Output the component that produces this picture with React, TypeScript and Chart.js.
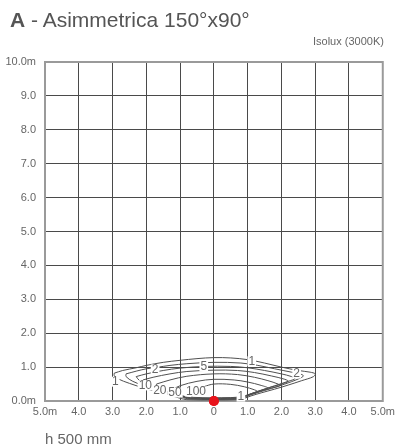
import React, { useEffect, useRef } from "react";
import { Chart, registerables } from "chart.js";

Chart.register(...registerables);

const xTickLabels = ["5.0m", "4.0", "3.0", "2.0", "1.0", "0", "1.0", "2.0", "3.0", "4.0", "5.0m"];
const yTickLabels = ["0.0m", "1.0", "2.0", "3.0", "4.0", "5.0", "6.0", "7.0", "8.0", "9.0", "10.0m"];

type P = { x: number; y: number };
const level1: P[] = [
  { x: -2.95, y: 0.82 }, { x: -2.7, y: 0.9 }, { x: -2.3, y: 0.98 }, { x: -2.0, y: 1.05 }, { x: -1.5, y: 1.14 },
  { x: -1.0, y: 1.2 }, { x: -0.5, y: 1.25 }, { x: 0, y: 1.28 }, { x: 0.5, y: 1.27 }, { x: 1.0, y: 1.22 },
  { x: 1.5, y: 1.12 }, { x: 2.0, y: 1.0 }, { x: 2.5, y: 0.9 }, { x: 2.85, y: 0.85 }, { x: 3.0, y: 0.8 },
  { x: 2.95, y: 0.72 }, { x: 2.6, y: 0.6 }, { x: 2.2, y: 0.47 }, { x: 1.8, y: 0.35 }, { x: 1.4, y: 0.24 },
  { x: 1.1, y: 0.15 }, { x: 0.9, y: 0.08 }, { x: 0.7, y: 0.04 }, { x: 0, y: 0.03 }, { x: -0.8, y: 0.04 },
  { x: -1.0, y: 0.08 }, { x: -1.4, y: 0.2 }, { x: -2.0, y: 0.36 }, { x: -2.5, y: 0.52 }, { x: -2.85, y: 0.66 },
  { x: -2.95, y: 0.75 }, { x: -2.95, y: 0.82 },
];
const level2: P[] = [
  { x: -2.6, y: 0.8 }, { x: -2.3, y: 0.88 }, { x: -2.0, y: 0.95 }, { x: -1.7, y: 0.99 }, { x: -1.3, y: 1.05 },
  { x: -0.8, y: 1.1 }, { x: 0, y: 1.14 }, { x: 0.8, y: 1.12 }, { x: 1.3, y: 1.05 }, { x: 1.8, y: 0.95 },
  { x: 2.3, y: 0.85 }, { x: 2.55, y: 0.8 }, { x: 2.65, y: 0.74 }, { x: 2.5, y: 0.65 }, { x: 2.1, y: 0.5 },
  { x: 1.7, y: 0.37 }, { x: 1.3, y: 0.25 }, { x: 1.0, y: 0.15 }, { x: 0.8, y: 0.08 }, { x: 0.6, y: 0.05 },
  { x: -0.7, y: 0.06 }, { x: -1.0, y: 0.12 }, { x: -1.5, y: 0.26 }, { x: -2.0, y: 0.42 }, { x: -2.4, y: 0.58 },
  { x: -2.6, y: 0.72 }, { x: -2.6, y: 0.8 },
];
const level5: P[] = [
  { x: -2.3, y: 0.72 }, { x: -2.0, y: 0.8 }, { x: -1.5, y: 0.9 }, { x: -1.0, y: 0.97 }, { x: -0.3, y: 1.02 },
  { x: 0.5, y: 1.02 }, { x: 1.0, y: 0.98 }, { x: 1.5, y: 0.9 }, { x: 2.0, y: 0.8 }, { x: 2.3, y: 0.72 },
  { x: 2.4, y: 0.66 }, { x: 2.2, y: 0.58 }, { x: 1.8, y: 0.45 }, { x: 1.4, y: 0.32 }, { x: 1.0, y: 0.18 },
  { x: 0.75, y: 0.09 }, { x: 0.55, y: 0.06 }, { x: -0.7, y: 0.07 }, { x: -1.0, y: 0.15 }, { x: -1.4, y: 0.28 },
  { x: -1.9, y: 0.45 }, { x: -2.2, y: 0.6 }, { x: -2.3, y: 0.72 },
];
const level10: P[] = [
  { x: -2.1, y: 0.62 }, { x: -1.8, y: 0.7 }, { x: -1.3, y: 0.8 }, { x: -0.8, y: 0.87 }, { x: 0, y: 0.91 },
  { x: 0.7, y: 0.9 }, { x: 1.2, y: 0.84 }, { x: 1.7, y: 0.74 }, { x: 2.1, y: 0.64 }, { x: 2.2, y: 0.58 },
  { x: 2.0, y: 0.5 }, { x: 1.6, y: 0.38 }, { x: 1.2, y: 0.25 }, { x: 0.9, y: 0.14 }, { x: 0.7, y: 0.08 },
  { x: 0.5, y: 0.07 }, { x: -0.7, y: 0.08 }, { x: -1.0, y: 0.17 }, { x: -1.5, y: 0.32 }, { x: -2.0, y: 0.48 },
  { x: -2.1, y: 0.55 }, { x: -2.1, y: 0.62 },
];
const level20: P[] = [
  { x: -1.7, y: 0.5 }, { x: -1.3, y: 0.62 }, { x: -0.8, y: 0.73 }, { x: 0, y: 0.8 }, { x: 0.7, y: 0.78 },
  { x: 1.2, y: 0.7 }, { x: 1.6, y: 0.6 }, { x: 1.9, y: 0.5 }, { x: 1.95, y: 0.45 }, { x: 1.7, y: 0.38 },
  { x: 1.3, y: 0.27 }, { x: 1.0, y: 0.17 }, { x: 0.75, y: 0.1 }, { x: 0.5, y: 0.08 }, { x: -0.7, y: 0.09 },
  { x: -1.1, y: 0.18 }, { x: -1.5, y: 0.3 }, { x: -1.7, y: 0.42 }, { x: -1.7, y: 0.5 },
];
const level50: P[] = [
  { x: -1.25, y: 0.33 }, { x: -1.0, y: 0.45 }, { x: -0.5, y: 0.58 }, { x: 0, y: 0.64 }, { x: 0.6, y: 0.62 },
  { x: 1.0, y: 0.56 }, { x: 1.4, y: 0.46 }, { x: 1.6, y: 0.38 }, { x: 1.4, y: 0.3 }, { x: 1.1, y: 0.2 },
  { x: 0.8, y: 0.12 }, { x: 0.5, y: 0.09 }, { x: -0.7, y: 0.1 }, { x: -1.0, y: 0.18 }, { x: -1.25, y: 0.28 },
  { x: -1.25, y: 0.33 },
];
const level100: P[] = [
  { x: -0.6, y: 0.3 }, { x: -0.3, y: 0.42 }, { x: 0, y: 0.5 }, { x: 0.5, y: 0.49 }, { x: 0.9, y: 0.42 },
  { x: 1.2, y: 0.33 }, { x: 1.3, y: 0.27 }, { x: 1.1, y: 0.2 }, { x: 0.8, y: 0.13 }, { x: 0.5, y: 0.1 },
  { x: -0.6, y: 0.11 }, { x: -0.7, y: 0.2 }, { x: -0.6, y: 0.3 },
];
const contours = [level1, level2, level5, level10, level20, level50, level100];

const labelTexts = ["1", "1", "1", "2", "2", "5", "10", "20", "50", "100"];
const labelX = [-2.92, 1.12, 0.8, -1.74, 2.45, -0.3, -2.03, -1.6, -1.15, -0.53];
const labelY = [0.57, 1.17, 0.13, 0.93, 0.81, 1.02, 0.46, 0.32, 0.25, 0.28];

const sourcePoint: P[] = [{ x: 0, y: 0 }];

const borderPlugin = {
  id: "frameBorder",
  beforeDatasetsDraw(chart: any) {
    const { ctx, chartArea } = chart;
    ctx.save();
    ctx.strokeStyle = "#9a9a9a";
    ctx.lineWidth = 2;
    ctx.strokeRect(chartArea.left, chartArea.top, chartArea.right - chartArea.left, chartArea.bottom - chartArea.top);
    ctx.restore();
  },
};

const labelPlugin = {
  id: "contourLabels",
  afterDatasetsDraw(chart: any) {
    const { ctx } = chart;
    const xs = chart.scales.x;
    const ys = chart.scales.y;
    ctx.save();
    ctx.font = "12px 'Liberation Sans', Arial, sans-serif";
    ctx.textAlign = "center";
    ctx.textBaseline = "middle";
    labelTexts.forEach((t, i) => {
      const px = xs.getPixelForValue(labelX[i]);
      const py = ys.getPixelForValue(labelY[i]);
      const w = ctx.measureText(t).width;
      ctx.fillStyle = "#ffffff";
      ctx.fillRect(px - w / 2 - 1, py - 5, w + 2, 10);
      ctx.fillStyle = "#666666";
      ctx.fillText(t, px, py + 0.5);
    });
    const meta = chart.getDatasetMeta(chart.data.datasets.length - 1);
    meta.data.forEach((el: any) => {
      ctx.beginPath();
      ctx.fillStyle = "#e8141c";
      ctx.arc(el.x, el.y, 5, 0, Math.PI * 2);
      ctx.fill();
    });
    ctx.restore();
  },
};

export default function App() {
  const ref = useRef<HTMLCanvasElement | null>(null);
  useEffect(() => {
    if (!ref.current) return;
    const datasets: any[] = contours.map((c) => ({
      data: c,
      showLine: true,
      borderColor: "#505050",
      borderWidth: 1,
      pointRadius: 0,
      tension: 0.35,
      fill: false,
    }));
    datasets.push({
      data: sourcePoint,
      showLine: false,
      pointRadius: 5,
      backgroundColor: "#e8141c",
      borderWidth: 0,
      clip: false,
    });
    const font = { family: "'Liberation Sans', Arial, sans-serif", size: 11 };
    const chart = new Chart(ref.current, {
      type: "scatter",
      data: { datasets },
      options: {
        animation: false,
        responsive: false,
        maintainAspectRatio: false,
        layout: { padding: { left: 0, right: 15, top: 62, bottom: 25 } },
        plugins: { legend: { display: false }, tooltip: { enabled: false }, title: { display: false } },
        scales: {
          x: {
            type: "linear",
            min: -5,
            max: 5,
            ticks: {
              stepSize: 1,
              padding: 4,
              color: "#666666",
              font,
              maxRotation: 0,
              autoSkip: false,
              callback: (_v: any, i: number) => xTickLabels[i],
            },
            grid: { color: "#4a4a4a", lineWidth: 1, drawTicks: false },
            border: { display: false },
            afterFit: (s: any) => {
              s.height = 20;
            },
          },
          y: {
            type: "linear",
            min: 0,
            max: 10,
            ticks: {
              stepSize: 1,
              padding: 9,
              color: "#666666",
              font,
              autoSkip: false,
              callback: (_v: any, i: number) => yTickLabels[i],
            },
            grid: { color: "#4a4a4a", lineWidth: 1, drawTicks: false },
            border: { display: false },
            afterFit: (s: any) => {
              s.width = 45;
            },
          },
        },
      },
      plugins: [borderPlugin, labelPlugin],
    });
    return () => chart.destroy();
  }, []);

  return (
    <div style={{ position: "fixed", left: 0, top: 0, width: 399, height: 446, background: "#fff", fontFamily: "'Liberation Sans', Arial, sans-serif" }}>
      <canvas ref={ref} width={399} height={446} style={{ position: "absolute", left: 0, top: 0 }} />
      <div style={{ position: "absolute", left: 10, top: 9.2, fontSize: 21, lineHeight: 1, color: "#555", whiteSpace: "nowrap" }}>
        <span style={{ fontWeight: "bold" }}>A</span> - Asimmetrica 150°x90°
      </div>
      <div style={{ position: "absolute", left: 313, top: 35.7, fontSize: 11, lineHeight: 1, color: "#666", whiteSpace: "nowrap" }}>
        Isolux (3000K)
      </div>
      <div style={{ position: "absolute", left: 45, top: 430.5, fontSize: 15, lineHeight: 1, color: "#666", whiteSpace: "nowrap" }}>
        h 500 mm
      </div>
    </div>
  );
}
